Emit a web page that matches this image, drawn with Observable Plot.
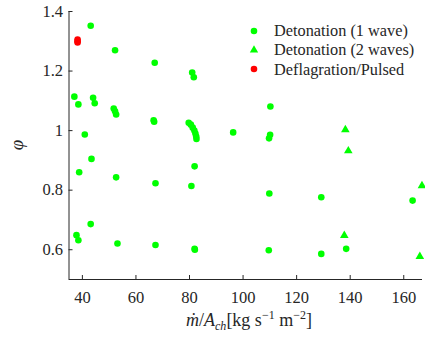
<!DOCTYPE html>
<html>
<head>
<meta charset="utf-8">
<script src="https://cdn.jsdelivr.net/npm/d3@7"></script>
<script src="https://cdn.jsdelivr.net/npm/@observablehq/plot@0.6"></script>
<style>
  html, body { margin: 0; padding: 0; background: #fff; }
  #wrap { position: relative; width: 425px; height: 337px; font-family: 'Liberation Serif', 'Liberation Sans', serif; color: #262626; }
  .legend { position: absolute; left: 247px; top: 21px; font-size: 16.3px; line-height: 19.3px; }
  .legend .row { display: flex; align-items: center; white-space: nowrap; }
  .legend svg { width: 14px; height: 14px; margin-right: 13px; }
  .xlabel { position: absolute; left: 0; width: 100%; top: 311px; text-align: center; font-size: 18px; line-height: 18px; padding-left: 73px; box-sizing: border-box; white-space: nowrap; }
  .xlabel sub { font-size: 12px; vertical-align: -4px; line-height: 0; }
  .xlabel sup { font-size: 12px; vertical-align: 7px; line-height: 0; }
  .ylabel { position: absolute; left: 12px; top: 134px; font-size: 19px; font-style: italic; transform: rotate(-90deg); }
</style>
</head>
<body>
<div id="wrap">
  <div id="chart"></div>
  <div class="legend" id="legend"></div>
  <div class="xlabel"><i>m&#775;</i>/<i>A</i><sub><i>ch</i></sub>[kg s<sup>−1</sup> m<sup>−2</sup>]</div>
  <div class="ylabel">φ</div>
</div>
<script>
// Detonation (1 wave)
const oneWaveX = [37.0, 43.1, 38.5, 44.0, 44.6, 40.9, 43.4, 52.2, 51.7, 52.2, 52.6, 67.0, 66.6, 66.8,
  81.0, 81.6, 79.7, 80.5, 81.2, 81.8, 82.2, 82.5, 82.6, 81.9, 110.2, 96.3, 110.1, 109.7,
  38.8, 52.6, 67.3, 80.7, 37.8, 38.5, 43.1, 53.1, 67.3, 81.9, 82.0, 109.8, 129.2, 163.3,
  138.5, 109.6, 129.2];
const oneWaveY = [1.114, 1.352, 1.088, 1.110, 1.092, 0.987, 0.905, 1.270, 1.074, 1.065, 1.054, 1.228, 1.035, 1.030,
  1.195, 1.179, 1.026, 1.020, 1.010, 1.000, 0.990, 0.980, 0.972, 0.880, 1.081, 0.994, 0.986, 0.974,
  0.860, 0.843, 0.823, 0.814, 0.649, 0.632, 0.686, 0.621, 0.616, 0.603, 0.600, 0.789, 0.776, 0.765,
  0.603, 0.598, 0.586];
// Detonation (2 waves)
const twoWaveX = [138.2, 139.3, 166.8, 137.8, 166.0];
const twoWaveY = [1.003, 0.932, 0.815, 0.648, 0.577];
// Deflagration/Pulsed
const deflagX = [38.2, 38.2, 38.2];
const deflagY = [1.306, 1.300, 1.296];

const xTicks = [40, 60, 80, 100, 120, 140, 160];
const yTicks = [0.6, 0.8, 1, 1.2, 1.4];
const seriesNames = ["Detonation (1 wave)", "Detonation (2 waves)", "Deflagration/Pulsed"];
const seriesColors = ["#00ff00", "#00ff00", "#ff0000"];
const seriesSymbols = ["circle", "triangle", "circle"];

const toRows = (xs, ys) => xs.map((x, i) => ({x, y: ys[i]}));
const one = toRows(oneWaveX, oneWaveY);
const two = toRows(twoWaveX, twoWaveY);
const defl = toRows(deflagX, deflagY);

const axisColor = "#262626";
const plot = Plot.plot({
  width: 425,
  height: 337,
  marginLeft: 68.5,
  marginRight: 3,
  marginTop: 11,
  marginBottom: 58,
  style: {fontFamily: "'Liberation Serif', 'Liberation Sans', serif", fontSize: "16.5px", color: axisColor, background: "transparent", overflow: "visible"},
  x: {domain: [35, 167]},
  y: {domain: [0.5, 1.4]},
  marks: [
    Plot.axisX({ticks: xTicks, tickSize: -4, tickPadding: 16, label: null, stroke: axisColor, fill: axisColor}),
    Plot.axisY({ticks: yTicks, tickSize: -4, tickPadding: 10, label: null, stroke: axisColor, fill: axisColor, tickFormat: d => String(+d.toFixed(1))}),
    Plot.ruleY([0.5], {stroke: axisColor, strokeWidth: 1}),
    Plot.ruleX([35], {stroke: axisColor, strokeWidth: 1}),
    Plot.dot(one, {x: "x", y: "y", r: 3.3, fill: seriesColors[0], symbol: seriesSymbols[0], stroke: "none"}),
    Plot.dot(two, {x: "x", y: "y", r: 3.2, fill: seriesColors[1], symbol: seriesSymbols[1], stroke: "none"}),
    Plot.dot(defl, {x: "x", y: "y", r: 3.3, fill: seriesColors[2], symbol: seriesSymbols[2], stroke: "none"})
  ]
});
document.getElementById("chart").appendChild(plot);

// HTML legend overlay
const legend = d3.select("#legend");
seriesNames.forEach((name, i) => {
  const row = legend.append("div").attr("class", "row");
  const svg = row.append("svg").attr("viewBox", "-7 -7 14 14");
  const sym = seriesSymbols[i] === "triangle" ? d3.symbolTriangle : d3.symbolCircle;
  svg.append("path").attr("d", d3.symbol(sym, seriesSymbols[i] === "triangle" ? 30 : 34)()).attr("fill", seriesColors[i]);
  row.append("span").text(name);
});
</script>
</body>
</html>
